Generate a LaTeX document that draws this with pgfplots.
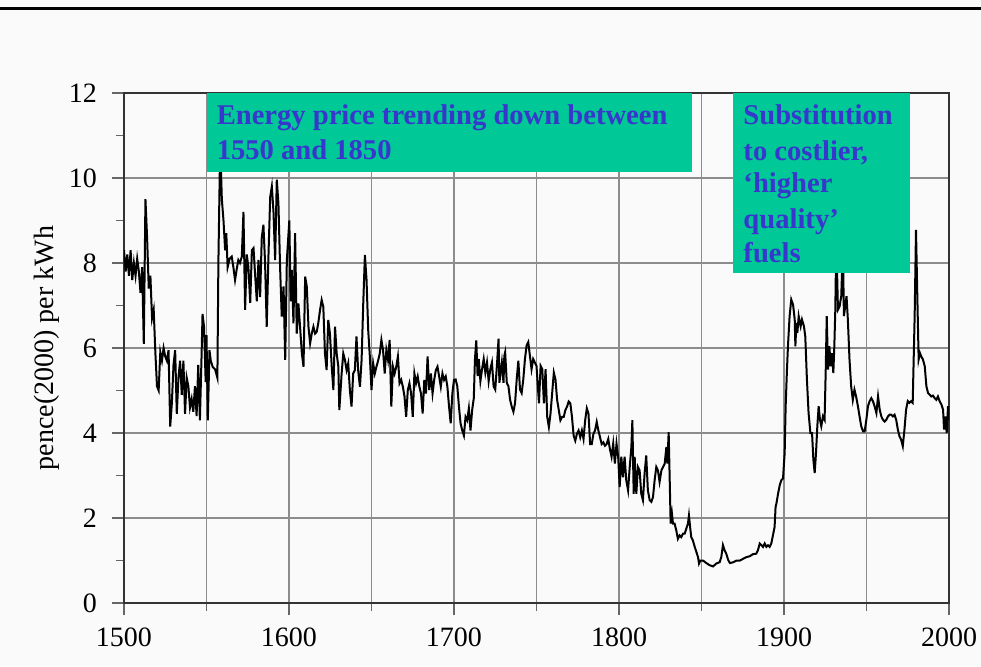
\documentclass[border=0pt]{standalone}
\usepackage{fontspec}
\setmainfont{Liberation Serif}
\usepackage{pgfplots}
\pgfplotsset{compat=1.18}
\definecolor{boxgreen}{RGB}{0,200,150}
\definecolor{boxblue}{RGB}{55,55,205}
\definecolor{bgc}{RGB}{250,250,250}

\begin{document}
\begin{tikzpicture}
\useasboundingbox[fill=bgc] (-62pt,-31.5pt) rectangle (428.5pt,301.5pt);
\draw[black, line width=1.5pt] (-62pt,297.5pt) -- (428.5pt,297.5pt);
\begin{axis}[
    scale only axis, width=412.5pt, height=255pt,
    xmin=1500, xmax=2000, ymin=0, ymax=12,
    xtick={1500,1600,...,2000}, ytick={0,2,...,12},
    minor xtick={1550,1650,...,1950}, minor ytick={1,3,...,11},
    xtick pos=lower, ytick pos=left,
    xmajorgrids, xminorgrids, ymajorgrids,
    grid style={black!45, line width=0.7pt},
    minor grid style={black!45, line width=0.7pt},
    axis line style={black!80, line width=0.9pt},
    tick align=outside, major tick length=6pt, minor tick length=4pt,
    tick style={black!60, line width=0.6pt},
    ticklabel style={font=\fontsize{14}{16}\selectfont},
    /pgf/number format/assume math mode=true,
    x tick label style={/pgf/number format/1000 sep={}, yshift=-3pt},
    y tick label style={xshift=-4pt},
    ylabel={pence(2000) per kWh},
    ylabel style={font=\fontsize{14}{16}\selectfont,
        at={(axis description cs:-0.0933,0.5)}, anchor=center},
]
\addplot[black, line width=1pt] coordinates {
(1500,8.3)(1501,7.8)(1502,8.2)(1503,7.7)(1504,8.3)(1505,7.6)(1506,8.0)(1507,7.7)(1508,8.1)(1509,7.8)
(1510,7.3)(1511,7.9)(1512,6.1)(1513,9.5)(1514,8.6)(1515,7.4)(1516,7.7)(1517,6.7)(1518,6.9)(1519,5.9)
(1520,5.1)(1521,5.0)(1522,5.9)(1523,5.7)(1524,6.0)(1525,5.8)(1526,5.7)(1527,5.95)(1528,4.15)(1529,4.7)
(1530,5.6)(1531,5.95)(1532,4.45)(1533,5.3)(1534,5.7)(1535,4.9)(1536,5.7)(1537,4.45)(1538,5.3)(1539,5.1)
(1540,4.6)(1541,4.8)(1542,4.5)(1543,5.1)(1544,4.4)(1545,5.6)(1546,4.3)(1547,5.8)(1547.6,6.8)(1548.5,6.5)
(1549.5,5.2)(1550,6.3)(1550.8,4.3)(1551.8,5.95)(1552.6,5.7)(1553.8,5.55)(1555.2,5.5)(1556.6,5.3)(1557.2,8.0)(1558.3,10.8)
(1559.3,9.5)(1560.3,9.0)(1561.3,8.3)(1562,8.7)(1562.8,7.9)(1564,8.1)(1565.3,8.15)(1566.3,7.9)(1567.3,7.6)(1568.3,7.85)
(1569.3,8.07)(1570.3,8.0)(1571.4,8.15)(1572.4,9.2)(1573.4,6.9)(1574.4,8.2)(1575.4,7.9)(1576.5,7.06)(1577.5,8.3)(1578.5,8.35)
(1579.5,7.7)(1580.5,7.1)(1581.5,8.07)(1582.5,7.2)(1583.5,8.6)(1584.5,8.9)(1585.5,8.0)(1586.5,6.5)(1587.5,8.1)(1588.6,9.55)
(1589.6,9.8)(1590.6,9.2)(1591.6,8.07)(1592.6,9.96)(1593.6,9.4)(1594.6,7.9)(1595.6,6.74)(1596.7,7.45)(1597.7,5.72)(1598.7,8.07)
(1600.2,9.0)(1601,7.1)(1601.7,7.84)(1602.7,6.58)(1603.7,8.7)(1604.7,6.34)(1605.7,7.05)(1606.7,6.5)(1607.8,5.87)(1608.8,5.56)
(1609.8,7.68)(1610.8,7.44)(1611.8,6.5)(1612.8,6.11)(1613.8,6.34)(1614.8,6.5)(1615.8,6.34)(1616.8,6.38)(1617.8,6.6)(1618.8,6.89)
(1619.8,7.13)(1620.8,6.97)(1621.8,5.87)(1622.8,5.48)(1623.8,6.66)(1624.8,6.34)(1625.9,5.56)(1626.9,5.01)(1627.9,6.5)(1628.9,5.87)
(1629.9,5.56)(1630.5,4.54)(1631.9,5.4)(1632.9,5.87)(1633.9,5.72)(1634.9,5.48)(1635.9,5.64)(1636.9,5.01)(1637.9,4.62)(1638.9,5.4)
(1639.9,5.48)(1640.9,6.27)(1641.9,5.48)(1643,5.09)(1644,5.72)(1645,7.05)(1646,8.19)(1647,7.6)(1648,6.42)(1649,5.8)
(1650,5.01)(1651,5.64)(1652,5.4)(1653,5.56)(1654,5.7)(1655,5.87)(1656,6.19)(1657,5.95)(1658,5.4)(1659,5.95)
(1660,5.72)(1661,6.19)(1662,4.62)(1663,5.56)(1664,5.4)(1665,5.56)(1666,5.8)(1667,5.17)(1668,5.25)(1669,5.09)
(1670,4.86)(1671,4.38)(1672,5.01)(1673,5.17)(1674,4.93)(1675,4.38)(1676,5.4)(1677,5.17)(1678,5.33)(1679,5.09)
(1680,4.93)(1681,4.46)(1682,5.25)(1683,4.93)(1684,5.8)(1685,5.01)(1686,5.4)(1687,4.93)(1688,5.25)(1689,5.48)
(1690,5.56)(1691,5.33)(1692,5.09)(1693,5.4)(1694,5.25)(1695,5.33)(1696,5.09)(1697,4.62)(1698,4.23)(1699,4.93)
(1700,5.25)(1701,5.26)(1702,5.1)(1703,4.62)(1704,4.22)(1705,4.06)(1706,3.94)(1707,4.38)(1708,4.3)(1709,4.58)
(1710,4.06)(1711,4.54)(1712,4.82)(1712.7,5.74)(1713.5,6.18)(1714.3,5.34)(1715,5.74)(1716,5.22)(1717,5.5)(1718,5.74)
(1719,5.42)(1720,5.66)(1721,5.22)(1722,5.5)(1723,5.66)(1724,5.1)(1725,5.02)(1726,5.58)(1727,6.22)(1727.5,5.18)
(1729,5.66)(1730,5.18)(1730.5,5.82)(1731,5.9)(1732,5.18)(1733,5.1)(1734,4.78)(1735,4.62)(1736,4.5)(1737,4.7)
(1738,5.26)(1739,5.7)(1740,5.02)(1741,4.94)(1742,5.26)(1743,5.74)(1744,6.06)(1745,6.14)(1746,5.82)(1747,5.5)
(1748,5.74)(1749,5.66)(1750,5.58)(1751.5,4.7)(1752.5,5.58)(1753.5,5.5)(1754.5,4.7)(1755.5,5.5)(1756.5,4.38)(1757.5,4.14)
(1758.5,4.46)(1759.5,4.94)(1760.5,5.42)(1761.5,5.26)(1762.5,4.78)(1763.5,4.54)(1764.5,4.3)(1765.5,4.38)(1766.5,4.38)(1767.5,4.54)
(1768.5,4.62)(1769.5,4.74)(1770.5,4.7)(1771.5,4.38)(1772.5,3.94)(1773.5,3.82)(1774.5,3.98)(1775.5,4.06)(1776.5,3.9)(1777.5,4.06)
(1778.5,3.86)(1779.5,4.3)(1780.5,4.58)(1781.5,4.46)(1782.5,3.74)(1783.5,3.74)(1784.5,3.98)(1785.5,4.06)(1786.5,4.26)(1787.5,4.06)
(1788.5,3.9)(1789.5,3.74)(1790.5,3.78)(1791.5,3.7)(1792.5,3.74)(1793.5,3.86)(1794.5,3.62)(1795.5,3.44)(1796.5,3.75)(1797.5,3.28)
(1798.5,3.75)(1799.5,3.44)(1800.4,2.73)(1801.4,3.44)(1802.4,2.96)(1803.4,3.44)(1804.4,2.89)(1805.5,2.65)(1806.5,3.2)(1807.5,3.67)
(1808.1,4.3)(1808.9,2.57)(1809.5,3.44)(1810.5,2.57)(1811.5,3.2)(1812.5,3.12)(1813.5,2.57)(1814.5,2.42)(1815.5,3.04)(1816.5,3.47)
(1817.5,2.65)(1818.6,2.42)(1819.6,2.38)(1820.6,2.49)(1821.6,2.89)(1822.6,3.2)(1823.6,3.12)(1824.6,2.85)(1825.7,3.12)(1826.7,3.2)
(1827.7,3.28)(1828.7,3.67)(1829.3,3.28)(1830.1,4.02)(1830.7,2.96)(1831.3,1.87)(1832.1,2.1)(1832.7,1.87)(1833.7,1.87)(1834.7,1.71)
(1835.7,1.51)(1836.7,1.59)(1837.7,1.55)(1838.8,1.63)(1839.8,1.63)(1840.8,1.75)(1841.8,1.87)(1842.4,2.06)(1843.2,1.75)(1843.8,1.55)
(1844.8,1.47)(1845.9,1.32)(1846.9,1.2)(1847.9,1.08)(1848.5,0.93)(1849.3,1.0)(1850.9,1.0)(1852.9,0.94)(1854.9,0.89)(1857,0.86)
(1859,0.93)(1861,0.96)(1862,1.08)(1863,1.36)(1864,1.24)(1865,1.16)(1866.3,1.0)(1867.3,0.94)(1869.3,0.96)(1871.3,1.0)
(1873.3,1.0)(1875.2,1.04)(1877.2,1.08)(1879.2,1.1)(1881.2,1.15)(1883.2,1.16)(1884.2,1.24)(1885.3,1.4)(1886.3,1.36)(1887.3,1.32)
(1888.3,1.4)(1889.3,1.32)(1890.3,1.36)(1891.3,1.32)(1892.3,1.4)(1893.3,1.59)(1894.3,1.79)(1894.9,2.26)(1895.4,2.34)(1896.4,2.57)
(1897.4,2.77)(1898.4,2.89)(1899.4,2.93)(1900.4,3.53)(1901,4.63)(1901.8,5.49)(1902.4,6.04)(1903.4,6.75)(1904.4,7.14)(1905.5,7.02)
(1906.5,6.67)(1906.9,6.04)(1907.5,6.59)(1908.1,6.35)(1908.9,6.75)(1910.1,6.51)(1910.9,6.67)(1912.1,6.51)(1912.9,6.27)(1913.9,5.25)
(1914.9,4.47)(1916,4.0)(1917,4.0)(1917.8,3.37)(1918.6,3.06)(1919.4,3.53)(1920.2,4.16)(1921,4.63)(1921.8,4.31)(1922.6,4.16)
(1923.6,4.39)(1924.6,4.31)(1925.3,5.49)(1925.9,6.75)(1926.7,5.49)(1927.5,6.04)(1928.3,5.57)(1929.1,5.88)(1929.9,5.41)(1930.5,6.04)
(1931.1,6.9)(1931.7,8.6)(1932.7,6.9)(1933.7,6.98)(1934.7,7.22)(1935.7,8.4)(1936.3,6.75)(1937.1,6.98)(1937.9,7.22)(1938.7,6.67)
(1939.7,5.73)(1940.7,5.1)(1941.7,4.78)(1942.7,5.02)(1943.7,4.86)(1944.8,4.63)(1945.8,4.39)(1946.8,4.16)(1947.9,4.04)(1948.9,4.04)
(1949.9,4.31)(1950.9,4.63)(1951.9,4.75)(1952.9,4.82)(1953.9,4.75)(1954.9,4.63)(1956,4.47)(1957,4.86)(1958,4.55)(1959,4.39)
(1960,4.31)(1961,4.27)(1962,4.31)(1963,4.39)(1964,4.43)(1965,4.43)(1966,4.39)(1967,4.43)(1968,4.31)(1969,4.08)
(1970,3.92)(1971,3.84)(1972,3.69)(1973,4.08)(1974,4.55)(1975,4.75)(1976,4.71)(1977,4.75)(1978,4.71)(1979.2,6.78)
(1980,8.78)(1980.8,7.22)(1981.6,5.73)(1982.4,5.88)(1983.2,5.8)(1984.2,5.73)(1985.3,5.57)(1986.3,5.1)(1987.3,4.94)(1988.3,4.9)
(1989.3,4.86)(1990.3,4.88)(1991.3,4.82)(1992.3,4.78)(1993.3,4.86)(1994.3,4.75)(1995.4,4.67)(1996.4,4.55)(1997,4.08)(1997.8,4.39)
(1998.6,4.0)(1999.4,4.63)(2000,4.31)
};
% annotation boxes
\fill[boxgreen] (axis cs:1550.1,10.15) rectangle (axis cs:1844.2,12);
\fill[boxgreen] (axis cs:1869.1,7.76) rectangle (axis cs:1976.4,12);
\begin{scope}[every node/.style={anchor=base west, inner sep=0pt, text=boxblue,
    font=\fontsize{14.3}{16}\selectfont\bfseries}]
\node at (axis cs:1556,11.25) {Energy price trending down between};
\node at (axis cs:1556,10.43) {1550 and 1850};
\node at (axis cs:1875.2,11.25) {Substitution};
\node at (axis cs:1875.2,10.42) {to costlier,};
\node at (axis cs:1875.2,9.65) {‘higher};
\node at (axis cs:1875.2,8.82) {quality’};
\node at (axis cs:1875.2,8.02) {fuels};
\end{scope}
\end{axis}
\end{tikzpicture}
\end{document}
